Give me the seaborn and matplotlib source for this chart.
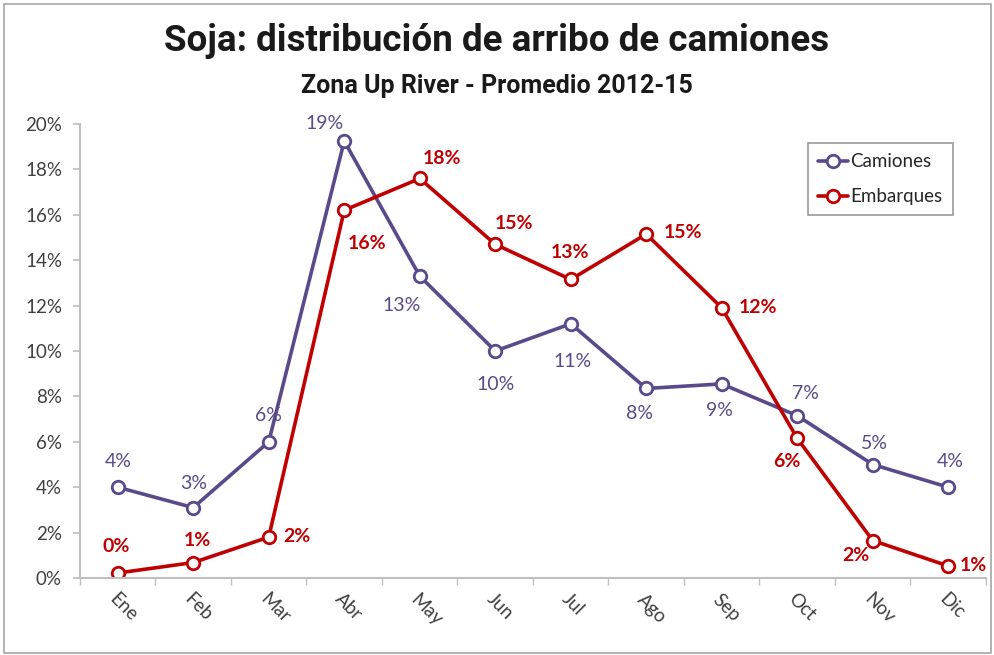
import matplotlib
matplotlib.use("Agg")
import matplotlib.pyplot as plt
import seaborn as sns
import pandas as pd
from matplotlib.patches import Rectangle

months = ["Ene", "Feb", "Mar", "Abr", "May", "Jun", "Jul", "Ago", "Sep", "Oct", "Nov", "Dic"]
camiones = [4.0, 3.1, 6.0, 19.25, 13.3, 10.0, 11.2, 8.35, 8.55, 7.15, 5.0, 4.0]
embarques = [0.22, 0.68, 1.8, 16.2, 17.6, 14.7, 13.15, 15.15, 11.9, 6.15, 1.65, 0.53]
series_names = ["Camiones", "Embarques"]
yticks = [0, 2, 4, 6, 8, 10, 12, 14, 16, 18, 20]

# label offsets in pixels (position / style only)
off_cam = [(0, 26), (0, 24), (0, 26), (-20, 18), (-18, -29), (0, -33), (2, -38), (-7, -25), (-2, -27), (8, 22), (2, 21), (2, 26)]
off_emb = [(-2, 27), (4, 22), (28, 1), (23, -33), (22, 20), (19, 21), (-1, 27), (37, 2), (36, 0), (-10, -23), (-17, -15), (25, 0)]

sns.set_theme(style="white")
plt.rcParams["font.family"] = ["Lato", "DejaVu Sans"]

purple = "#5B4A8B"
red = "#C00000"

df = pd.DataFrame({
    "x": list(range(12)) * 2,
    "val": camiones + embarques,
    "serie": [series_names[0]] * 12 + [series_names[1]] * 12,
})

fig = plt.figure(figsize=(9.95, 6.55), dpi=100)
ax = fig.add_axes([80 / 995, 1 - 578 / 655, 906 / 995, (578 - 124) / 655])

for name, col in zip(series_names, [purple, red]):
    sub = df[df["serie"] == name]
    sns.lineplot(data=sub, x="x", y="val", ax=ax, color=col, linewidth=2.6,
                 marker="o", markersize=9, markerfacecolor="white",
                 markeredgecolor=col, markeredgewidth=2, label=name, sort=False)

for vals, offs, col, wt in [(camiones, off_cam, purple, "normal"), (embarques, off_emb, red, "bold")]:
    for i, (v, o) in enumerate(zip(vals, offs)):
        ax.annotate(f"{round(v):d}%", (i, v), xytext=o, textcoords="offset pixels",
                    ha="center", va="center", color=col, fontsize=14, fontweight=wt)

ax.set_xlim(-0.5, 11.5)
ax.set_ylim(0, 20)
ax.set_yticks(yticks)
ax.set_yticklabels([f"{t}%" for t in yticks], fontsize=13.5, color="#404040")
ax.set_xticks(range(12))
ax.set_xticklabels(months, rotation=-45, ha="left", rotation_mode="anchor", fontsize=13.5, color="#404040")
ax.set_xticks([i - 0.5 for i in range(13)], minor=True)
ax.tick_params(axis="x", which="major", length=0, pad=9)
ax.tick_params(axis="x", which="minor", length=5, color="#BFBFBF", direction="out", bottom=True)
ax.tick_params(axis="y", length=5, color="#BFBFBF", direction="out", left=True, pad=8)
ax.set_xlabel("")
ax.set_ylabel("")
for s in ["top", "right"]:
    ax.spines[s].set_visible(False)
for s in ["left", "bottom"]:
    ax.spines[s].set_color("#BFBFBF")
    ax.spines[s].set_linewidth(1.5)

leg = ax.legend(loc="upper left", bbox_to_anchor=(808 / 995, 1 - 143 / 655),
                bbox_transform=fig.transFigure, frameon=True, fancybox=False,
                fontsize=13.5, handlelength=1.6, handletextpad=0.1, borderpad=0.55,
                labelspacing=0.95, borderaxespad=0)
leg.get_frame().set_edgecolor("#808080")
leg.get_frame().set_linewidth(1.2)

title_font = ["Liberation Sans Narrow", "Roboto", "DejaVu Sans"]
fig.text(497 / 995, 1 - 41 / 655, "Soja: distribución de arribo de camiones",
         ha="center", va="center", fontsize=26.5, fontweight="bold", family=title_font, color="#1a1a1a")
fig.text(497 / 995, 1 - 86 / 655, "Zona Up River - Promedio 2012-15",
         ha="center", va="center", fontsize=18, fontweight="bold", family=title_font, color="#1a1a1a")

fig.patches.append(Rectangle((4 / 995, 2 / 655), 987 / 995, 649 / 655, transform=fig.transFigure,
                             fill=False, edgecolor="#A6A6A6", linewidth=1.2))

fig.savefig("out.png", dpi=100)
